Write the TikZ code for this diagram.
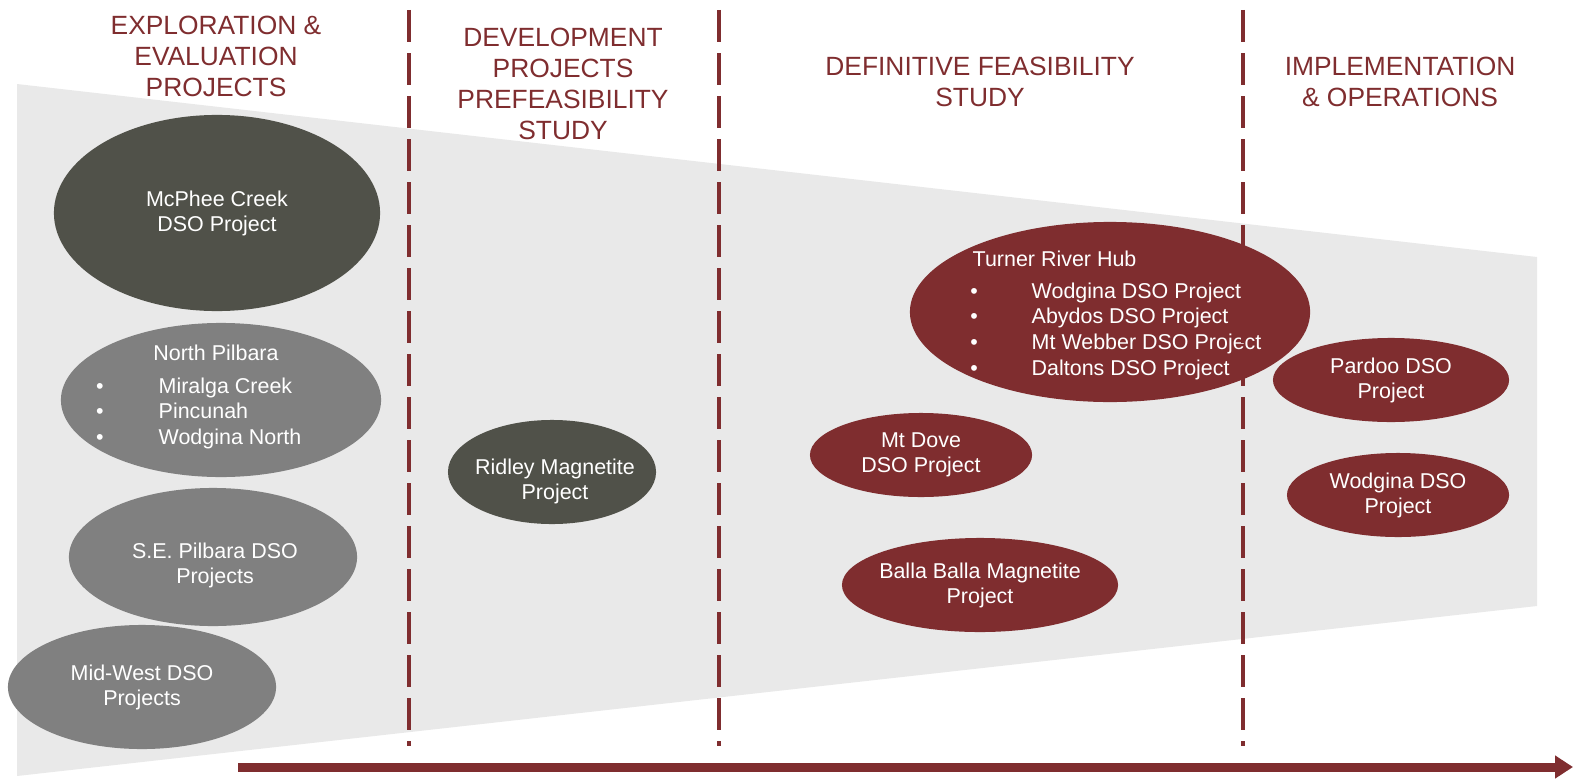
\documentclass[tikz,border=0pt]{standalone}
\usepackage{fontspec}
\setmainfont{Liberation Sans}
\usetikzlibrary{arrows.meta,shapes.geometric}
\definecolor{wine}{HTML}{7F2D2F}
\definecolor{slate}{HTML}{505149}
\definecolor{stone}{HTML}{808080}
\definecolor{panel}{HTML}{E9E9E9}
\tikzset{project/.style={ellipse, inner xsep=-0.4cm, inner ysep=-0.2cm, text=white, align=center, font=\fontsize{6.1}{7.1}\selectfont},
	item/.style={text=white, inner sep=0pt, align=center, font=\fontsize{6.1}{7.1}\selectfont},
	phase/.style={text=wine, align=center, font=\fontsize{7.5}{8.8}\selectfont},
	divider/.style={wine, line width=0.04cm, dash pattern=on 0.32cm off 0.11cm}}

\begin{document}
\begin{tikzpicture}[x=0.01cm,y=-0.01cm]
		\useasboundingbox (0,0) rectangle (1574,779);
		\fill[panel] (17,84) -- (1537,257) -- (1537,606) -- (17,776) -- cycle;
		% exploration
		\node[project, fill=slate, minimum width=3.26cm, minimum height=1.96cm] (mcphee) at (217,213) {McPhee Creek\\DSO Project};
		\node[project, fill=stone, minimum width=3.2cm, minimum height=1.54cm] (npilbara) at (221,400) {};
		\node[item, anchor=base] (nptitle) at (216,360) {North Pilbara};
		\foreach \txt [count=\i] in {Miralga Creek, Pincunah, Wodgina North}{
			\node[item, anchor=base] (npdot\i) at (100,{393+25.5*(\i-1)}) {•};
			\node[item, anchor=base west] (npitem\i) at (158,{393+25.5*(\i-1)}) {\txt};
		}
		\node[project, fill=stone, minimum width=2.88cm, minimum height=1.38cm] (sepilbara) at (213,557) {};
		\node[item] (setext) at (215,565) {S.E. Pilbara DSO\\Projects};
		\node[project, fill=stone, minimum width=2.68cm, minimum height=1.24cm] (midwest) at (142,687) {Mid-West DSO\\Projects};
		% development
		\node[project, fill=slate, minimum width=2.08cm, minimum height=1.04cm] (ridley) at (552,472) {};
		\node[item] (ridleytext) at (555,481) {Ridley Magnetite\\Project};
		% definitive feasibility
		\node[project, fill=wine, minimum width=4cm, minimum height=1.8cm] (turner) at (1110,312) {};
		\node[item, anchor=base west] (trtitle) at (972,266) {Turner River Hub};
		\foreach \txt [count=\i] in {Wodgina DSO Project, Abydos DSO Project, Mt Webber DSO Project, Daltons DSO Project}{
			\node[item, anchor=base] (trdot\i) at (974,{298+25.7*(\i-1)}) {•};
			\node[item, anchor=base west] (tritem\i) at (1031,{298+25.7*(\i-1)}) {\txt};
		}
		\node[project, fill=wine, minimum width=2.22cm, minimum height=0.84cm] (mtdove) at (921,455) {Mt Dove\\DSO Project};
		\node[project, fill=wine, minimum width=2.76cm, minimum height=0.94cm] (balla) at (980,585) {Balla Balla Magnetite\\Project};
		% implementation
		\node[project, fill=wine, minimum width=2.36cm, minimum height=0.84cm] (pardoo) at (1391,380) {Pardoo DSO\\Project};
		\node[project, fill=wine, minimum width=2.22cm, minimum height=0.84cm] (wodgina) at (1398,495) {Wodgina DSO\\Project};
		% phase dividers
		\draw[divider] (409,10) -- (409,746);
		\draw[divider] (719,10) -- (719,746);
		\draw[divider] (1243,10) -- (1243,746);
		\draw[wine, line width=0.09cm, -{Triangle[length=0.18cm,width=0.22cm]}] (238,767) -- (1573,767);
		% headings
		\node[phase] (explore) at (216,56) {EXPLORATION \&\\EVALUATION\\PROJECTS};
		\node[phase] (develop) at (563,84) {DEVELOPMENT\\PROJECTS\\PREFEASIBILITY\\STUDY};
		\node[phase] (define) at (980,82) {DEFINITIVE FEASIBILITY\\STUDY};
		\node[phase] (implement) at (1400,82) {IMPLEMENTATION\\\& OPERATIONS};
		\end{tikzpicture}
\end{document}
